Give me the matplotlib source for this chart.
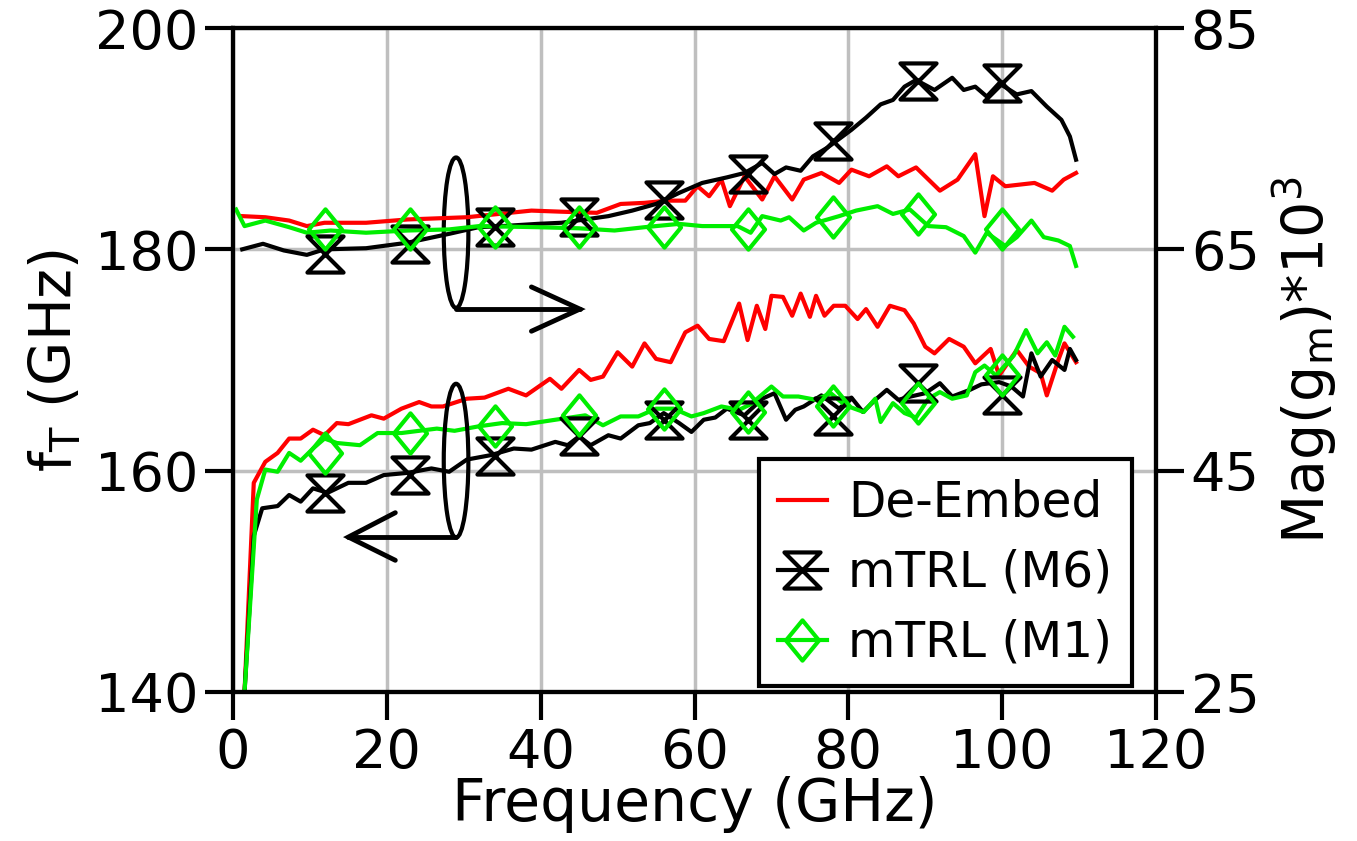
import numpy as np
import matplotlib
matplotlib.use("Agg")
import matplotlib.pyplot as plt
from matplotlib.path import Path
from matplotlib.patches import Ellipse
from matplotlib.lines import Line2D

plt.rcParams['font.family'] = ['DejaVu Sans']
plt.rcParams['mathtext.default'] = 'regular'

# ---- fT (left axis, GHz) ----
ft_de_f = [1.5, 2.7, 4.2, 5.8, 7.3, 8.8, 10.4, 11.9, 13.5, 15, 18, 19.6, 21.9, 24.2, 25.8, 27.3,
           30.4, 32.7, 35.8, 38.1, 41.2, 42.7, 45, 46.5, 48.1, 50, 51.9, 53.5, 55, 56.9, 58.8,
           60.4, 61.9, 63.8, 65.8, 66.9, 68.1, 69.2, 70, 71.5, 72.7, 73.8, 75, 75.8, 76.9, 78.1,
           79.6, 81.2, 82.3, 83.8, 85.4, 87.3, 88.5, 90, 91.2, 93.1, 95, 96.5, 98.5, 99.6, 101.9,
           103.5, 105, 105.8, 107.3, 108.1, 109.6]
ft_de = [140.0, 158.9, 160.8, 161.6, 162.9, 162.9, 163.7, 163.2, 164.3, 164.2, 165.0, 164.7,
         165.6, 166.2, 165.8, 165.8, 166.5, 166.6, 167.4, 166.8, 168.3, 167.4, 169.1, 168.2,
         168.5, 170.7, 169.4, 171.5, 170.1, 169.8, 172.5, 173.1, 171.9, 171.7, 175.1, 171.8,
         174.9, 172.8, 175.8, 175.7, 174.0, 176.0, 173.9, 175.8, 174.0, 174.9, 174.9, 173.7,
         174.6, 173.0, 174.9, 174.5, 173.3, 171.2, 170.6, 171.9, 171.2, 169.7, 171.0, 168.6,
         170.9, 169.4, 168.8, 166.8, 170.0, 171.5, 169.8]

ft_m6_f = [1.5, 2.7, 3.8, 5.8, 7.3, 8.8, 10.4, 12.3, 15, 17.3, 19.6, 22.7, 25.8, 28.1, 30.4,
           33.5, 36.5, 38.8, 41.9, 43.5, 45, 46.5, 48.8, 50.4, 52.7, 54.2, 56, 58, 59.6, 61.2,
           62.7, 64.2, 66.5, 68.8, 70.4, 71.9, 73.1, 74.2, 76.5, 78.8, 80.4, 81.9, 83.5, 85,
           86.5, 88.1, 90, 91.9, 93.5, 95.8, 97.3, 99.6, 101.2, 102.7, 103.8, 105, 106.5, 108.1,
           108.8, 109.6]
ft_m6 = [140.0, 154.1, 156.6, 156.8, 157.8, 157.2, 158.4, 158.0, 158.9, 158.9, 159.6, 159.8,
         160.2, 159.9, 161.0, 161.4, 162.0, 161.9, 162.6, 162.3, 163.1, 162.3, 163.2, 162.9,
         164.1, 164.3, 165.2, 164.3, 163.5, 164.6, 164.8, 165.6, 165.0, 166.5, 167.0, 164.6,
         165.5, 165.8, 166.8, 165.6, 166.6, 165.3, 166.4, 167.3, 166.4, 166.7, 167.0, 167.9,
         166.7, 167.3, 167.8, 168.0, 167.6, 166.7, 170.6, 168.5, 170.0, 169.1, 171.0, 170.0]

ft_m1_f = [1.5, 3.1, 4.2, 5.8, 7.3, 8.8, 10.4, 11.9, 13.5, 16.5, 18.8, 21.9, 24.2, 26.5, 28.8,
           31.9, 35, 38.1, 41.9, 45.8, 48.1, 50.4, 52.7, 55, 57.3, 59.6, 61.2, 63.5, 65.8, 67.3,
           70, 71.5, 73.5, 75.8, 77.7, 79.6, 82, 83.5, 84.2, 85.8, 87.3, 88.8, 90.4, 91.9, 93.5,
           95.4, 96.5, 97.7, 99.2, 101.5, 103.1, 104.6, 105.8, 106.9, 108.1, 109.2]
ft_m1 = [140.0, 157.4, 160.1, 159.9, 161.6, 160.9, 162.0, 162.9, 162.5, 162.3, 163.4, 163.4,
         163.6, 163.8, 163.6, 164.0, 164.3, 164.2, 164.6, 165.0, 164.1, 164.9, 164.9, 165.6,
         165.6, 164.9, 165.2, 165.8, 165.5, 166.0, 167.6, 166.7, 166.7, 166.4, 167.0, 165.9,
         165.3, 166.5, 164.4, 166.1, 165.2, 164.8, 166.5, 167.1, 166.5, 166.8, 168.9, 169.5,
         168.6, 170.4, 172.7, 170.6, 171.6, 170.4, 173.0, 172.1]

# ---- Mag(gm)*1e3 (right axis) ----
gm_de_f = [1.2, 4.2, 7.3, 9.6, 11.9, 17.3, 22.7, 30.4, 38.8, 42.7, 47.3, 50.4, 53.5, 56.5, 58.8,
           60.4, 61.9, 63.5, 64.6, 66.5, 68.8, 70.4, 72.7, 74.2, 76.5, 78.8, 80.4, 82.7, 85,
           86.5, 88.8, 91.9, 94.2, 96.5, 97.7, 98.8, 100.4, 104.2, 106.5, 108, 109.6]
gm_de = [68.0, 67.9, 67.6, 67.1, 67.4, 67.4, 67.7, 67.9, 68.5, 68.4, 68.3, 69.1, 69.2, 69.4,
         69.4, 70.7, 69.8, 71.3, 68.9, 71.6, 69.5, 71.6, 69.5, 71.3, 71.9, 71.0, 72.2, 71.6,
         72.5, 71.6, 72.4, 70.3, 71.3, 73.6, 68.0, 71.6, 70.7, 71.0, 70.3, 71.3, 71.9]

gm_m6_f = [1.2, 3.9, 6.6, 9.6, 11.9, 17.3, 22.7, 28.1, 31.9, 35, 39.6, 42.7, 45.8, 48.8, 51.9,
           55, 58, 61, 64.2, 66.5, 68.8, 70.4, 71.9, 73.8, 75.4, 77.3, 80.4, 82.3, 84.2, 85.8,
           87.3, 88.8, 91.2, 93.5, 95, 96.5, 98, 99.6, 101.9, 103.8, 105.8, 107.7, 108.8, 109.6]
gm_m6 = [65.0, 65.5, 64.9, 64.5, 65.0, 65.1, 65.6, 66.4, 67.0, 67.1, 67.3, 67.4, 67.7, 68.0,
         68.5, 69.1, 70.1, 71.0, 71.5, 71.9, 72.8, 71.8, 72.4, 72.1, 73.4, 74.2, 75.8, 76.9,
         78.1, 78.5, 79.7, 80.3, 79.4, 80.5, 79.4, 79.7, 78.8, 80.0, 79.0, 79.3, 77.9, 76.7,
         75.2, 73.1]

gm_m1_f = [0.4, 1.5, 4.2, 7.3, 9.6, 12.7, 17.3, 22.7, 28.1, 32, 39.6, 45, 49.6, 53.5, 58, 61,
           65.6, 67.3, 68.8, 71.2, 72.3, 74.2, 75.8, 77.3, 78.8, 81, 83.8, 85.8, 88, 90.4, 92.7,
           95, 96.5, 98, 100.4, 101.9, 103.8, 105.4, 107.3, 108.8, 109.6]
gm_m1 = [68.6, 67.1, 67.6, 67.0, 66.5, 66.7, 66.5, 66.7, 66.8, 67.1, 67.0, 66.9, 66.7, 67.0,
         67.3, 67.1, 67.1, 66.5, 68.0, 67.6, 67.9, 66.7, 67.4, 67.7, 68.0, 68.5, 68.9, 68.2,
         68.6, 67.1, 67.0, 66.2, 64.7, 66.5, 65.3, 66.1, 67.6, 66.1, 65.8, 65.3, 63.5]

# marker positions (every 11 GHz)
mk_f = [12, 23, 34, 45, 56, 67, 78, 89, 100]
ft_m6_mk = [158.0, 159.6, 161.3, 163.1, 164.6, 164.6, 164.9, 167.9, 166.8]
ft_m1_mk = [161.6, 163.4, 164.0, 165.0, 165.6, 165.3, 165.8, 166.1, 168.6]
gm_m6_mk = [64.6, 65.5, 67.0, 67.9, 69.5, 71.8, 74.8, 80.2, 80.0]
gm_m1_mk = [66.8, 66.8, 67.0, 67.0, 67.0, 66.8, 67.9, 68.2, 66.8]

hourglass = Path([(-1, 1), (1, 1), (-1, -1), (1, -1), (-1, 1)],
                 [Path.MOVETO, Path.LINETO, Path.LINETO, Path.LINETO, Path.CLOSEPOLY])
diamond = Path([(0, 1), (0.82, 0), (0, -1), (-0.82, 0), (0, 1)],
               [Path.MOVETO, Path.LINETO, Path.LINETO, Path.LINETO, Path.CLOSEPOLY])

RED = '#ff0000'
GREEN = '#00ee00'
LW = 3.0

fig = plt.figure(figsize=(13.57, 8.41), dpi=100)
ax = fig.add_axes([0.1717, 0.1772, 0.6802, 0.7895])
ax2 = ax.twinx()

ax.plot(ft_de_f, ft_de, color=RED, lw=LW)
ax.plot(ft_m6_f, ft_m6, color='black', lw=LW)
ax.plot(ft_m1_f, ft_m1, color=GREEN, lw=LW)
ax.plot(mk_f, ft_m6_mk, ls='none', marker=hourglass, ms=26, mfc='none', mec='black', mew=3)
ax.plot(mk_f, ft_m1_mk, ls='none', marker=diamond, ms=29, mfc='none', mec=GREEN, mew=3)

ax2.plot(gm_de_f, gm_de, color=RED, lw=LW)
ax2.plot(gm_m6_f, gm_m6, color='black', lw=LW)
ax2.plot(gm_m1_f, gm_m1, color=GREEN, lw=LW)
ax2.plot(mk_f, gm_m6_mk, ls='none', marker=hourglass, ms=26, mfc='none', mec='black', mew=3)
ax2.plot(mk_f, gm_m1_mk, ls='none', marker=diamond, ms=29, mfc='none', mec=GREEN, mew=3)

# ellipses and arrows
ax.add_patch(Ellipse((29.0, 181.5), 3.2, 13.6, fill=False, ec='black', lw=3, zorder=5))
ax.add_patch(Ellipse((29.0, 160.9), 3.2, 13.9, fill=False, ec='black', lw=3, zorder=5))
ax.plot([29.0, 45.1], [174.6, 174.6], color='black', lw=3.5, solid_capstyle='round', zorder=5)
ax.plot([38.8, 45.1, 38.8], [176.6, 174.6, 172.6], color='black', lw=3.5,
        solid_capstyle='round', solid_joinstyle='miter', zorder=5)
ax.plot([29.0, 15.0], [154.0, 154.0], color='black', lw=3.5, solid_capstyle='round', zorder=5)
ax.plot([21.1, 15.0, 21.1], [156.2, 154.0, 151.9], color='black', lw=3.5,
        solid_capstyle='round', solid_joinstyle='miter', zorder=5)

ax.set_xlim(0, 120)
ax.set_ylim(140, 200)
ax2.set_ylim(25, 85)
ax.set_xticks([0, 20, 40, 60, 80, 100, 120])
ax.set_yticks([140, 160, 180, 200])
ax2.set_yticks([25, 45, 65, 85])

ax.set_axisbelow(True)
ax.grid(True, color='#bfbfbf', lw=2.5)

for a in (ax, ax2):
    for s in a.spines.values():
        s.set_linewidth(3)
    a.tick_params(direction='out', length=20, width=3, labelsize=39, pad=5)

ax.set_xlabel('Frequency (GHz)', fontsize=42, labelpad=-2)
ax.set_ylabel('f$_T$ (GHz)', fontsize=41, labelpad=8)
ax2.set_ylabel('Mag(g$_m$)*10$^3$', fontsize=41, labelpad=8)

handles = [
    Line2D([], [], color=RED, lw=LW),
    Line2D([], [], color='black', lw=LW, marker=hourglass, ms=26, mfc='none', mew=3),
    Line2D([], [], color=GREEN, lw=LW, marker=diamond, ms=29, mfc='none', mew=3),
]
leg = ax2.legend(handles, ['De-Embed', 'mTRL (M6)', 'mTRL (M1)'], loc='lower right',
                 bbox_to_anchor=(0.974, 0.009), borderaxespad=0, fontsize=35,
                 handlelength=1.0, handletextpad=0.45, labelspacing=0.45,
                 fancybox=False, framealpha=1, edgecolor='black', borderpad=0.4)
leg.get_frame().set_linewidth(3)

fig.savefig('out.png', dpi=100)
